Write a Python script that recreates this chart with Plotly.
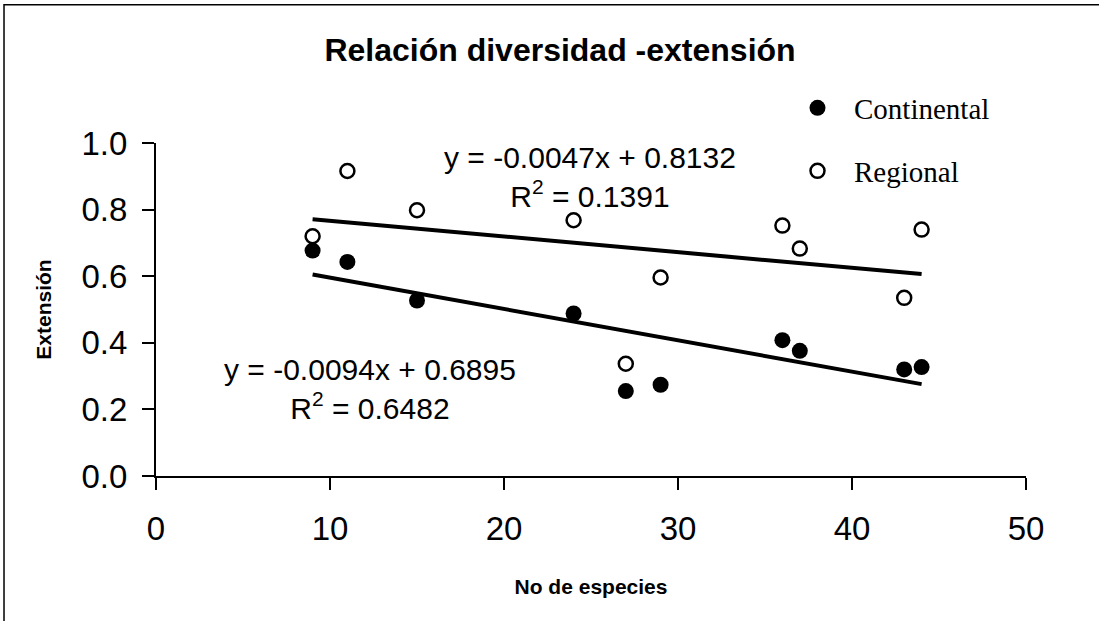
import plotly.graph_objects as go

# Número de especies por sitio y extensión asociada
especies = [9, 11, 15, 24, 27, 29, 36, 37, 43, 44]
ext_continental = [0.677, 0.643, 0.527, 0.488, 0.255, 0.274, 0.408, 0.376, 0.320, 0.327]
ext_regional = [0.720, 0.916, 0.798, 0.768, 0.337, 0.596, 0.752, 0.683, 0.535, 0.740]

# Ajustes lineales (pendiente, ordenada, R²)
ajuste_continental = (-0.0094, 0.6895, 0.6482)
ajuste_regional = (-0.0047, 0.8132, 0.1391)

x_ticks = [0, 10, 20, 30, 40, 50]
y_ticks = [0.0, 0.2, 0.4, 0.6, 0.8, 1.0]

SANS = "Arial, Liberation Sans, sans-serif"
SERIF = "Times New Roman, Liberation Serif, serif"

fig = go.Figure()


def recta(ajuste):
    m, b, _ = ajuste
    xs = [min(especies), max(especies)]
    return xs, [m * x + b for x in xs]


def ecuacion(ajuste):
    m, b, r2 = ajuste
    signo = "+" if b >= 0 else "-"
    return f"y = {m:.4f}x {signo} {abs(b):.4f}<br>R<sup>2</sup> = {r2:.4f}"


for aj in (ajuste_regional, ajuste_continental):
    xs, ys = recta(aj)
    fig.add_trace(go.Scatter(
        x=xs, y=ys, mode="lines", showlegend=False, hoverinfo="skip",
        line=dict(color="black", width=4),
    ))

fig.add_trace(go.Scatter(
    x=especies, y=ext_continental, mode="markers", name="Continental",
    marker=dict(symbol="circle", size=16, color="black"),
    legend="legend",
))
fig.add_trace(go.Scatter(
    x=especies, y=ext_regional, mode="markers", name="Regional",
    marker=dict(symbol="circle", size=14, color="white",
                line=dict(color="black", width=2.5)),
    legend="legend2",
))

# Etiquetas de las ecuaciones de ajuste
fig.add_annotation(x=24.97, y=0.897, xref="x", yref="y", text=ecuacion(ajuste_regional),
                   showarrow=False, align="center",
                   font=dict(family=SANS, size=30, color="black"))
fig.add_annotation(x=12.3, y=0.26, xref="x", yref="y", text=ecuacion(ajuste_continental),
                   showarrow=False, align="center",
                   font=dict(family=SANS, size=30, color="black"))

# Marco del gráfico
fig.add_shape(type="rect", xref="paper", yref="paper",
              x0=-0.1747, x1=1.11, y0=-0.47, y1=1.4154,
              line=dict(color="black", width=1.5), fillcolor="rgba(0,0,0,0)",
              layer="below")

leg_font = dict(family=SERIF, size=29, color="black")
fig.update_layout(
    width=1099, height=621,
    margin=dict(l=156, r=73, t=143, b=145),
    paper_bgcolor="white", plot_bgcolor="white",
    title=dict(text="<b>Relación diversidad -extensión</b>",
               x=560 / 1099, xref="container", xanchor="center",
               y=1 - 50 / 621, yref="container", yanchor="middle",
               font=dict(family=SANS, size=32, color="black")),
    xaxis=dict(range=[0, 50], tickvals=x_ticks, ticktext=[str(v) for v in x_ticks],
               showgrid=False, zeroline=False, showline=True, linecolor="black",
               linewidth=2, ticks="outside", ticklen=12, tickwidth=2, tickcolor="black",
               ticklabelstandoff=10,
               tickfont=dict(family=SANS, size=33, color="black"),
               title=dict(text="<b>No de especies</b>", standoff=34,
                          font=dict(family=SANS, size=21, color="black"))),
    yaxis=dict(range=[0, 1], tickvals=y_ticks, ticktext=[f"{v:.1f}" for v in y_ticks],
               showgrid=False, zeroline=False, showline=True, linecolor="black",
               linewidth=2, ticks="outside", ticklen=12, tickwidth=2, tickcolor="black",
               ticklabelstandoff=8,
               tickfont=dict(family=SANS, size=33, color="black"),
               title=dict(text="<b>Extensión</b>", standoff=24,
                          font=dict(family=SANS, size=21, color="black"))),
    legend=dict(x=(781 - 156) / 870, y=(476 - 108) / 333, xanchor="left", yanchor="middle",
                bgcolor="rgba(0,0,0,0)", font=leg_font, borderwidth=0, itemwidth=63),
    legend2=dict(x=(781 - 156) / 870, y=(476 - 171) / 333, xanchor="left", yanchor="middle",
                 bgcolor="rgba(0,0,0,0)", font=leg_font, borderwidth=0, itemwidth=63),
)

fig.write_html("out.html")
